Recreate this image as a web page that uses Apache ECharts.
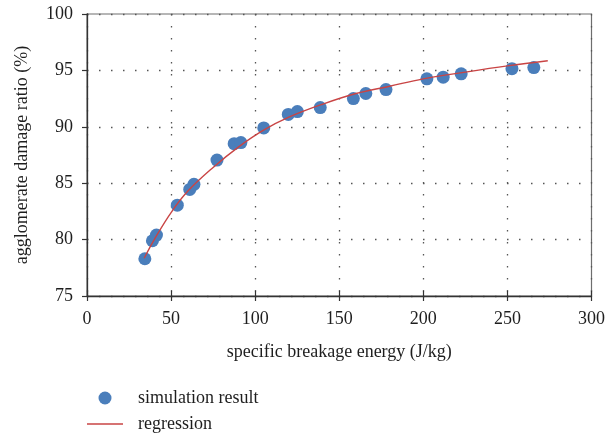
<!DOCTYPE html>
<html>
<head>
<meta charset="utf-8">
<script src="https://cdn.jsdelivr.net/npm/echarts@6/dist/echarts.min.js"></script>
<style>html,body{margin:0;padding:0;background:#fff;}#c{width:608px;height:438px;}</style>
</head>
<body>
<div id="c"></div>
<script>
// simulation result (specific breakage energy J/kg, agglomerate damage ratio %)
var simEnergy = [34.4, 38.9, 41.3, 53.7, 61.1, 63.6, 77.3, 87.5, 91.5, 105.1, 119.7, 125.1, 138.7, 158.4, 165.8, 177.8, 202.1, 211.8, 222.5, 252.7, 265.7];
var simRatio  = [78.3, 79.9, 80.4, 83.05, 84.45, 84.9, 87.05, 88.5, 88.6, 89.9, 91.1, 91.35, 91.7, 92.5, 92.95, 93.3, 94.25, 94.4, 94.7, 95.15, 95.25];
// regression curve
var regEnergy = [34, 40, 50, 60, 75, 90, 105, 120, 140, 160, 180, 200, 225, 250, 274];
var regRatio  = [78.35, 80.0, 82.4, 84.3, 86.4, 88.2, 89.7, 90.85, 92.0, 92.95, 93.6, 94.25, 94.85, 95.4, 95.85];
var xTicks = [0, 50, 100, 150, 200, 250, 300];
var yTicks = [75, 80, 85, 90, 95, 100];
var seriesNames = ['simulation result', 'regression'];

var FONT = 'Liberation Serif';
var TXT = '#1e1e1e';
var RED = '#c94444';

function pairs(a, b) { return a.map(function (v, i) { return [v, b[i]]; }); }

var chart = echarts.init(document.getElementById('c'), null, {renderer: 'canvas'});
chart.setOption({
  animation: false,
  backgroundColor: '#fff',
  textStyle: {fontFamily: FONT, color: TXT},
  grid: {left: 87, right: 15, top: 14, bottom: 142, show: true, borderColor: '#6e6e6e', borderWidth: 1.2, backgroundColor: 'transparent'},
  legend: {
    orient: 'vertical', left: 87, top: 389, padding: 0,
    itemWidth: 36, itemHeight: 13, itemGap: 8,
    textStyle: {fontFamily: FONT, fontSize: 18, color: TXT, lineHeight: 18, padding: [0, 0, 0, 10]},
    data: [
      {name: seriesNames[0], icon: 'circle'},
      {name: seriesNames[1], icon: 'path://M0,0 L36,0 L36,1.4 L0,1.4 Z', itemStyle: {color: RED}}
    ]
  },
  xAxis: [{
    type: 'value', min: xTicks[0], max: xTicks[xTicks.length - 1], interval: 50,
    name: 'specific breakage energy (J/kg)', nameLocation: 'middle', nameGap: 47,
    nameTextStyle: {fontFamily: FONT, fontSize: 18, color: TXT},
    axisLine: {show: true, onZero: false, lineStyle: {color: '#333', width: 1.3}},
    axisTick: {show: true, length: 5, lineStyle: {color: '#333', width: 1.2}},
    axisLabel: {fontFamily: FONT, fontSize: 18, color: TXT, margin: 14},
    splitLine: {show: true, lineStyle: {color: '#555', width: 1.3, type: [1.5, 10.5]}}
  }, {
    type: 'value', position: 'bottom', min: xTicks[0], max: xTicks[xTicks.length - 1], interval: 50,
    axisLine: {show: false}, axisLabel: {show: false}, splitLine: {show: false},
    axisTick: {show: true, inside: true, length: 5, lineStyle: {color: '#333', width: 1.2}}
  }],
  yAxis: {
    type: 'value', min: yTicks[0], max: yTicks[yTicks.length - 1], interval: 5,
    name: 'agglomerate damage ratio (%)', nameLocation: 'middle', nameGap: 56,
    nameTextStyle: {fontFamily: FONT, fontSize: 18, color: TXT},
    axisLine: {show: true, onZero: false, lineStyle: {color: '#333', width: 1.3}},
    axisTick: {show: true, length: 5, lineStyle: {color: '#333', width: 1.2}},
    axisLabel: {fontFamily: FONT, fontSize: 18, color: TXT, margin: 14},
    splitLine: {show: true, lineStyle: {color: '#555', width: 1.3, type: [1.5, 10.5]}}
  },
  series: [{
    name: seriesNames[0], type: 'scatter', symbol: 'circle', symbolSize: 13,
    itemStyle: {color: '#4a7ebb', opacity: 1},
    data: pairs(simEnergy, simRatio), z: 2
  }, {
    name: seriesNames[1], type: 'line', smooth: 0.4, showSymbol: false, symbol: 'none',
    lineStyle: {color: RED, width: 1.4},
    itemStyle: {color: RED},
    data: pairs(regEnergy, regRatio), z: 3
  }]
});
</script>
</body>
</html>
